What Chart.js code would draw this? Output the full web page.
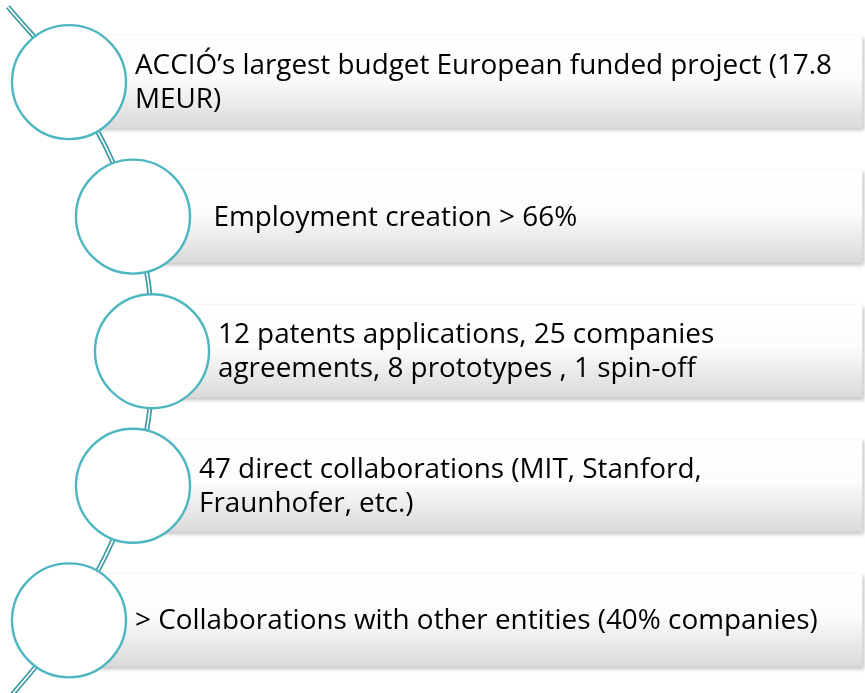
<!DOCTYPE html>
<html>
<head>
<meta charset="utf-8">
<script src="https://cdn.jsdelivr.net/npm/chart.js@4.4.0/dist/chart.umd.min.js"></script>
<style>
  html, body { margin: 0; padding: 0; background: #fff; }
  #wrap { width: 865px; height: 693px; }
</style>
</head>
<body>
<div id="wrap"><canvas id="chart" width="865" height="693"></canvas></div>
<script>
// ===== Data =====
const items = [
    ['ACCIÓ’s largest budget European funded project (17.8', 'MEUR)'],
    ['  Employment creation > 66%'],
    ['12 patents applications, 25 companies', 'agreements, 8 prototypes , 1 spin-off'],
    ['47 direct collaborations (MIT, Stanford,', 'Fraunhofer, etc.)'],
    ['> Collaborations with other entities (40% companies)']
];
const steps = [0, 1, 2, 3, 4];
const arcX = [69, 133, 152, 133, 69];          // where each circle sits on the arc
const arcStart = { x: 8, y: -0.56 };
const arcEnd = { x: -4, y: 4.7 };
const boxEnd = 862;

// ===== Layout =====
const circleRadius = 57;
const boxHeight = 92;
const teal = '#4DB6C1';
const tealDark = '#3E9AA3';

const arcPoints = [arcStart, ...steps.map((s, i) => ({ x: arcX[i], y: s })), arcEnd];

// ===== Shadow under the boxes =====
const boxShadow = {
    id: 'boxShadow',
    beforeDatasetDraw(chart, args) {
        if (args.index !== 0) return;
        const ctx = chart.ctx;
        ctx.save();
        ctx.shadowColor = 'rgba(0,0,0,0.25)';
        ctx.shadowBlur = 4;
        ctx.shadowOffsetX = 2;
        ctx.shadowOffsetY = 2;
    },
    afterDatasetDraw(chart, args) {
        if (args.index === 0) chart.ctx.restore();
    }
};

// ===== Text in the boxes =====
const boxText = {
    id: 'boxText',
    afterDatasetsDraw(chart) {
        const { ctx, scales: { x, y } } = chart;
        ctx.save();
        ctx.font = '27px "Open Sans"';
        ctx.fillStyle = '#000';
        ctx.textBaseline = 'alphabetic';
        // fit the first line to the width it has in the original
        const stretch = 697 / ctx.measureText(items[0][0]).width;
        items.forEach((lines, i) => {
            const left = x.getPixelForValue(arcX[i]) + circleRadius + 9;
            const cy = y.getPixelForValue(steps[i]);
            lines.forEach((t, j) => {
                const base = cy + 9 + (j - (lines.length - 1) / 2) * 34.5;
                ctx.save();
                ctx.translate(left, base);
                ctx.scale(stretch, 1);
                ctx.fillText(t, 0, 0);
                ctx.restore();
            });
        });
        ctx.restore();
    }
};

function boxFill(c) {
    const chart = c.chart;
    const yScale = chart.scales.y;
    if (!yScale || !c.raw) return '#eeeeee';
    const yc = yScale.getPixelForValue(c.raw.y);
    if (!Number.isFinite(yc)) return '#eeeeee';
    const g = chart.ctx.createLinearGradient(0, yc - boxHeight / 2, 0, yc + boxHeight / 2);
    g.addColorStop(0, '#ffffff');
    g.addColorStop(0.45, '#fcfcfc');
    g.addColorStop(1, '#dadada');
    return g;
}

new Chart(document.getElementById('chart'), {
    type: 'scatter',
    data: {
        datasets: [
            {
                type: 'bar',
                indexAxis: 'y',
                data: steps.map((s, i) => ({ y: s, x: [arcX[i], boxEnd] })),
                backgroundColor: boxFill,
                borderWidth: 0,
                barThickness: boxHeight,
                order: 4
            },
            {
                type: 'line',
                data: arcPoints,
                borderColor: tealDark,
                borderWidth: 5,
                pointRadius: 0,
                tension: 0.4,
                fill: false,
                order: 3
            },
            {
                type: 'line',
                data: arcPoints,
                borderColor: '#ffffff',
                borderWidth: 1.6,
                pointRadius: 0,
                tension: 0.4,
                fill: false,
                order: 2
            },
            {
                type: 'scatter',
                data: steps.map((s, i) => ({ x: arcX[i], y: s })),
                pointRadius: circleRadius,
                pointHoverRadius: circleRadius,
                pointBackgroundColor: '#ffffff',
                pointBorderColor: teal,
                pointBorderWidth: 2.4,
                order: 1
            }
        ]
    },
    options: {
        responsive: false,
        animation: false,
        events: [],
        layout: { padding: 0, autoPadding: false },
        scales: {
            x: { type: 'linear', min: 0, max: 865, offset: false, display: false },
            y: { type: 'linear', min: -0.61, max: 4.54, reverse: true, offset: false, display: false }
        },
        plugins: { legend: { display: false }, tooltip: { enabled: false } }
    },
    plugins: [boxShadow, boxText]
});
</script>
</body>
</html>
